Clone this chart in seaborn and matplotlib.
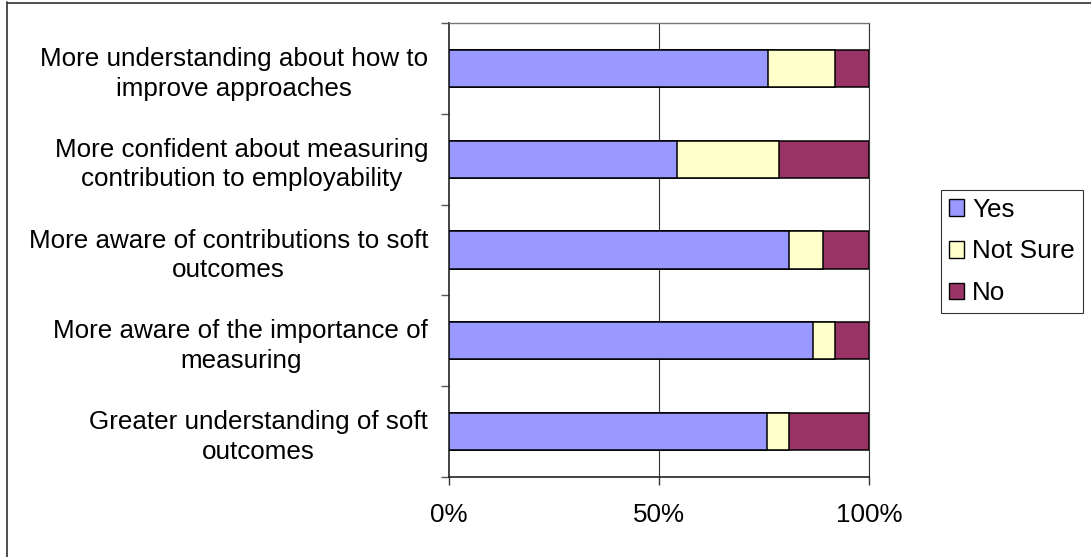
import matplotlib
matplotlib.use("Agg")
import matplotlib.pyplot as plt
import seaborn as sns
import pandas as pd
import numpy as np
from matplotlib.patches import Patch
from matplotlib.lines import Line2D

categories = [
    "More understanding about how to\nimprove approaches",
    "More confident about measuring\ncontribution to employability",
    "More aware of contributions to soft\noutcomes",
    "More aware of the importance of\nmeasuring",
    "Greater understanding of soft\noutcomes",
]
yes = [76.0, 54.3, 81.0, 86.7, 75.8]
not_sure = [16.0, 24.3, 8.0, 5.2, 5.2]
no = [8.0, 21.4, 11.0, 8.1, 19.0]
series_names = ["Yes", "Not Sure", "No"]
colors = ["#9999FF", "#FFFFCC", "#993366"]
x_ticks = [0, 50, 100]
x_ticklabels = ["0%", "50%", "100%"]

sns.set_style("white")
plt.rcParams["font.family"] = ["Liberation Sans", "DejaVu Sans"]
plt.rcParams["text.color"] = "black"
plt.rcParams["xtick.color"] = "black"
plt.rcParams["ytick.color"] = "black"
FS = 18.7

W, H = 1091, 557
fig = plt.figure(figsize=(W / 100, H / 100), dpi=100)
ax = fig.add_axes([449 / W, 1 - 477 / H, (869 - 449) / W, (477 - 23) / H])

df = pd.DataFrame({"cat": categories, "Yes": yes, "Not Sure": not_sure, "No": no})
df["c_yes"] = df["Yes"]
df["c_ns"] = df["Yes"] + df["Not Sure"]
df["c_no"] = df["c_ns"] + df["No"]

for col, c in [("c_no", colors[2]), ("c_ns", colors[1]), ("c_yes", colors[0])]:
    sns.barplot(data=df, x=col, y="cat", orient="h", color=c, saturation=1,
                width=0.41, edgecolor="black", linewidth=1.1, ax=ax, zorder=3)

ax.set_xlim(0, 100)
ax.set_ylim(4.5, -0.5)
ax.set_xlabel("")
ax.set_ylabel("")
ax.set_xticks(x_ticks)
ax.set_xticklabels(x_ticklabels, fontsize=FS, color="black")
for xv in x_ticks[1:]:
    ax.axvline(xv, color="#333333", lw=0.8, zorder=1)

ax.set_yticks(range(len(categories)))
ax.set_yticklabels(categories, fontsize=FS, ha="right", multialignment="center",
                   linespacing=1.3, color="black")
ax.set_yticks(np.arange(-0.5, len(categories), 1.0), minor=True)
ax.tick_params(axis="y", which="major", length=0, pad=15)
ax.tick_params(axis="y", which="minor", length=6, width=1, color="#555555", direction="out", left=True)
ax.tick_params(axis="x", which="major", length=6, width=1, color="#333333", direction="out", pad=13, bottom=True)

for side in ["left", "bottom"]:
    ax.spines[side].set_color("#222222")
    ax.spines[side].set_linewidth(1.2)
ax.spines["top"].set_color("#777777")
ax.spines["top"].set_linewidth(1.0)
ax.spines["right"].set_color("#333333")
ax.spines["right"].set_linewidth(0.8)

handles = [Patch(facecolor=c, edgecolor="black", linewidth=1.0) for c in colors]
leg = fig.legend(handles, series_names, loc="upper left",
                 bbox_to_anchor=(941 / W, 1 - 190 / H), frameon=True, fancybox=False,
                 edgecolor="black", fontsize=FS, handlelength=0.6, handleheight=0.6,
                 handletextpad=0.3, labelspacing=0.68, borderpad=0.3, borderaxespad=0)
leg.get_frame().set_linewidth(0.8)
for t in leg.get_texts():
    t.set_color("black")

# outer chart frame (left and top edges visible)
fig.add_artist(Line2D([7 / W, 7 / W], [0, 1 - 2 / H], transform=fig.transFigure, color="#404040", lw=1.3))
fig.add_artist(Line2D([7 / W, 1], [1 - 2.5 / H, 1 - 2.5 / H], transform=fig.transFigure, color="#404040", lw=1.3))

fig.savefig("out.png", dpi=100)
